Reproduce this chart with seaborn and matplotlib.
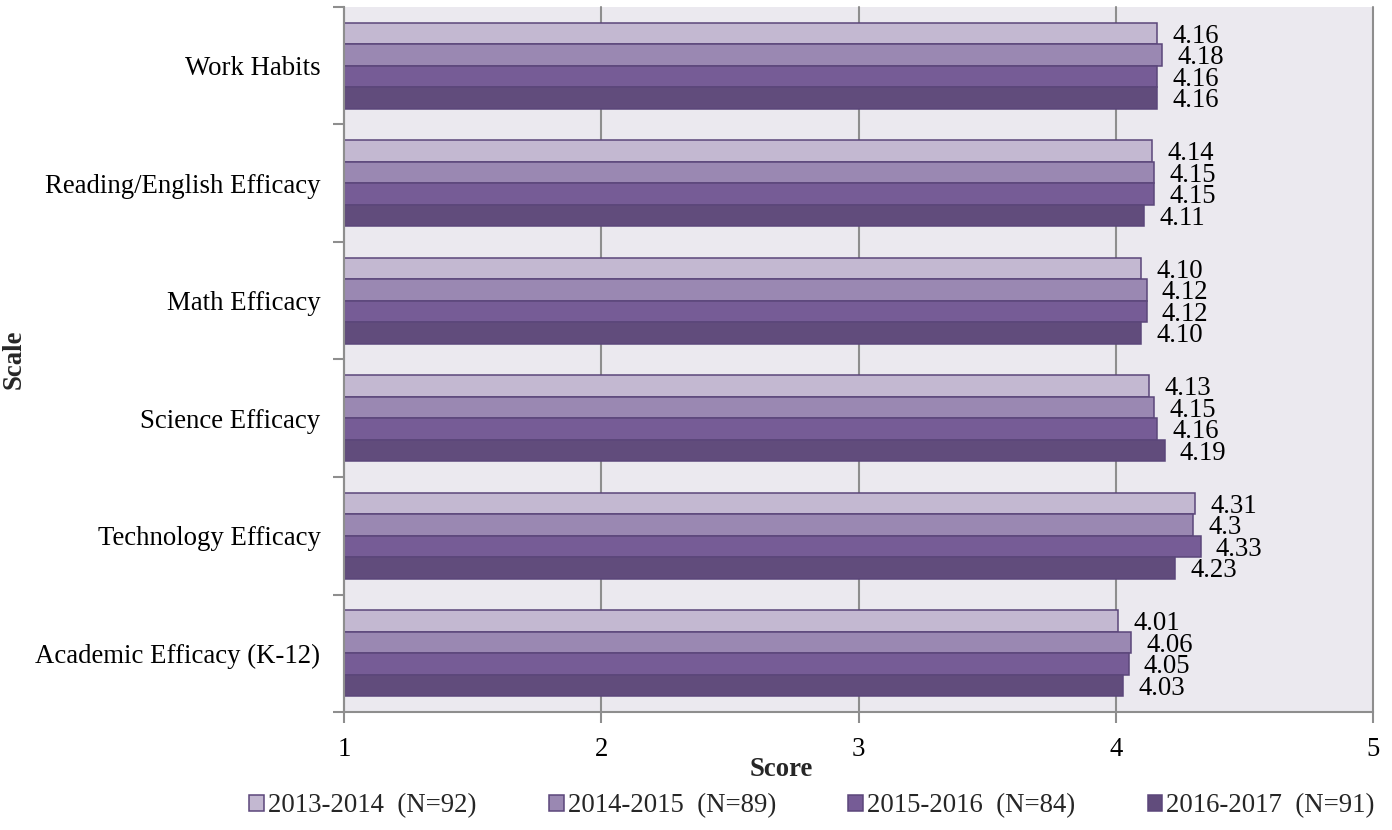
import matplotlib
matplotlib.use("Agg")
import matplotlib.pyplot as plt
import seaborn as sns
import pandas as pd

# Survey scale scores by school year
scales = ["Work Habits", "Reading/English Efficacy", "Math Efficacy",
          "Science Efficacy", "Technology Efficacy", "Academic Efficacy (K-12)"]
years = ["2013-2014  (N=92)", "2014-2015  (N=89)",
         "2015-2016  (N=84)", "2016-2017  (N=91)"]
scores_2013 = ["4.16", "4.14", "4.10", "4.13", "4.31", "4.01"]
scores_2014 = ["4.18", "4.15", "4.12", "4.15", "4.3", "4.06"]
scores_2015 = ["4.16", "4.15", "4.12", "4.16", "4.33", "4.05"]
scores_2016 = ["4.16", "4.11", "4.10", "4.19", "4.23", "4.03"]
x_ticks = [1, 2, 3, 4, 5]

series = [scores_2013, scores_2014, scores_2015, scores_2016]
colors = ["#C3B8D1", "#9A88B2", "#765C96", "#614C7C"]
edge = "#5B467A"
grid_col = "#8E8E8E"

rows = []
for yr, vals in zip(years, series):
    for sc, v in zip(scales, vals):
        rows.append({"Scale": sc, "Score": float(v), "Year": yr})
df = pd.DataFrame(rows)

sns.set_theme(style="white")
plt.rcParams["font.family"] = ["Liberation Serif", "DejaVu Serif"]
FS = 19.3

fig = plt.figure(figsize=(13.92, 8.30), dpi=100)
ax = fig.add_axes([344 / 1392, 1 - 712 / 830, 1029 / 1392, 705 / 830])
ax.set_facecolor("#EBE9EF")

sns.barplot(data=df, y="Scale", x="Score", hue="Year", order=scales,
            hue_order=years, palette=colors, orient="h", width=0.735,
            edgecolor=edge, linewidth=1.1, saturation=1, ax=ax, zorder=3)

# value labels just past the end of each bar
for cont, vals in zip(ax.containers, series):
    texts = ax.bar_label(cont, labels=vals, padding=11, fontsize=FS, color="black")
    for t in texts:
        t.xyann = (11, -2)

ax.set_xlim(1, 5)
ax.set_ylim(len(scales) - 0.5, -0.5)
ax.set_xticks(x_ticks)
ax.set_xticklabels([str(t) for t in x_ticks], fontsize=FS)

# category labels at centres, tick marks at group boundaries
ax.set_yticks(range(len(scales)))
ax.set_yticklabels(scales, fontsize=FS)
ax.set_yticks([i - 0.5 for i in range(len(scales) + 1)], minor=True)
ax.tick_params(axis="y", which="major", length=0, pad=17, colors="black")
ax.tick_params(axis="y", which="minor", length=8, width=1.5, color=grid_col,
               direction="out", left=True)
ax.tick_params(axis="x", which="major", length=8, width=1.5, color=grid_col,
               direction="out", bottom=True, pad=10, labelcolor="black")

ax.grid(axis="x", color=grid_col, linewidth=1.5, zorder=0)
ax.grid(axis="y", visible=False)
for gl in ax.get_xgridlines():
    gl.set_clip_on(False)
for s in ["top", "right"]:
    ax.spines[s].set_visible(False)
for s in ["left", "bottom"]:
    ax.spines[s].set_color(grid_col)
    ax.spines[s].set_linewidth(1.5)
    ax.spines[s].set_zorder(4)

ax.set_xlabel("Score", fontsize=FS, fontweight="bold")
ax.xaxis.set_label_coords(0.425, -0.064)
ax.set_ylabel("Scale", fontsize=FS, fontweight="bold")
ax.yaxis.set_label_coords(-0.308, 0.5)

handles, labels = ax.get_legend_handles_labels()
ax.get_legend().remove()
fig.legend(handles, labels, loc="center", bbox_to_anchor=(812 / 1392, 1 - 806 / 830),
           ncol=4, frameon=False, fontsize=FS, handlelength=0.55, handleheight=0.55,
           handletextpad=0.15, columnspacing=2.7)

fig.savefig("out.png", dpi=100)
